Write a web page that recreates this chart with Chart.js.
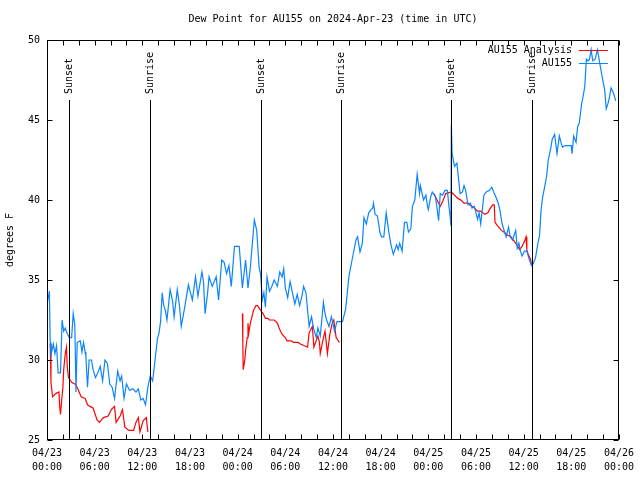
<!DOCTYPE html>
<html>
<head>
<meta charset="utf-8">
<title>Dew Point for AU155</title>
<script src="https://cdn.jsdelivr.net/npm/chart.js@4.4.1/dist/chart.umd.min.js"></script>
<style>
  html, body { margin: 0; padding: 0; background: #fff; }
  #wrap { width: 640px; height: 480px; }
</style>
</head>
<body>
<div id="wrap"><canvas id="chart" width="640" height="480"></canvas></div>
<script>
const TITLE = "Dew Point for AU155 on 2024-Apr-23 (time in UTC)";
const Y_TITLE = "degrees F";

// x values are hours since 2024-04-23 00:00 UTC
const X_TICK_DATES = ["04/23", "04/23", "04/23", "04/23", "04/24", "04/24", "04/24", "04/24", "04/25", "04/25", "04/25", "04/25", "04/26"];
const X_TICK_TIMES = ["00:00", "06:00", "12:00", "18:00", "00:00", "06:00", "12:00", "18:00", "00:00", "06:00", "12:00", "18:00", "00:00"];
const Y_TICKS = [25, 30, 35, 40, 45, 50];

const SERIES_NAMES = ["AU155 Analysis", "AU155"];

// AU155 observations
const obsHours = [
  0.0, 0.2, 0.3, 0.4, 0.5, 0.8, 1.0, 1.2, 1.4, 1.7, 1.9, 2.1, 2.3, 2.5, 2.8, 3.1, 3.3, 3.5, 3.65, 3.8,
  4.2, 4.4, 4.6, 4.8, 4.9, 5.1, 5.3, 5.6, 5.8, 6.1, 6.4, 6.7, 7.0, 7.3, 7.6, 7.9, 8.2, 8.5, 8.9, 9.2,
  9.4, 9.7, 10.0, 10.4, 10.8, 11.2, 11.5, 11.8, 12.1, 12.4, 12.7, 13.0, 13.3, 13.6, 13.9, 14.1, 14.3, 14.5, 14.7, 14.9,
  15.1, 15.5, 15.8, 16.0, 16.4, 16.7, 16.9, 17.3, 17.8, 18.0, 18.3, 18.7, 19.0, 19.5, 19.7, 19.9, 20.2, 20.4, 20.8, 21.3,
  21.6, 22.0, 22.3, 22.6, 22.9, 23.2, 23.6, 24.2, 24.6, 25.0, 25.3, 25.6, 26.1, 26.4, 26.7, 26.9, 27.1, 27.3, 27.5, 27.7,
  28.0, 28.3, 28.6, 29.0, 29.3, 29.6, 29.8, 30.0, 30.3, 30.6, 30.9, 31.2, 31.5, 31.8, 32.1, 32.3, 32.6, 33.0, 33.3, 33.6,
  33.9, 34.1, 34.4, 34.8, 35.0, 35.2, 35.5, 35.8, 36.2, 36.5, 37.2, 37.6, 37.8, 38.0, 38.4, 38.9, 39.1, 39.4, 39.7, 39.9,
  40.2, 40.5, 40.8, 41.0, 41.1, 41.3, 41.6, 41.9, 42.1, 42.4, 42.7, 43.0, 43.3, 43.6, 44.0, 44.2, 44.4, 44.7, 45.0, 45.3,
  45.5, 45.8, 46.0, 46.3, 46.6, 46.9, 47.0, 47.4, 47.7, 47.9, 48.0, 48.3, 48.5, 48.9, 49.1, 49.3, 49.5, 49.8, 50.1, 50.4,
  50.6, 50.75, 50.85, 50.9, 51.0, 51.3, 51.6, 52.0, 52.3, 52.5, 52.7, 53.0, 53.3, 53.5, 53.8, 54.2, 54.4, 54.6, 55.0, 55.3,
  55.7, 56.0, 56.3, 56.5, 56.8, 57.0, 57.3, 57.6, 57.8, 58.1, 58.3, 58.6, 58.8, 59.0, 59.2, 59.4, 59.6, 59.8, 60.1, 60.4,
  60.7, 61.0, 61.2, 61.5, 61.8, 62.0, 62.2, 62.4, 62.6, 62.9, 63.1, 63.4, 63.6, 63.9, 64.2, 64.5, 64.7, 64.9, 65.2, 65.6,
  66.0, 66.1, 66.3, 66.6, 66.8, 67.0, 67.3, 67.5, 67.7, 67.9, 68.1, 68.3, 68.5, 68.7, 69.0, 69.3, 69.6, 70.0, 70.2, 70.4,
  70.6, 70.8, 71.0, 71.3, 71.6
];
const obsDewp = [
  33.5, 34.0, 34.3, 31.1, 30.3, 31.0, 30.4, 30.9, 29.2, 29.2, 32.5, 31.8, 32.0, 31.7, 31.4, 31.4, 32.9, 32.2, 28.0, 31.1,
  31.2, 30.5, 31.1, 30.5, 30.2, 28.3, 30.0, 30.0, 29.4, 28.9, 29.2, 29.6, 28.7, 30.0, 29.8, 28.5, 28.3, 27.6, 29.3, 28.7,
  29.0, 27.6, 28.5, 28.1, 28.2, 28.0, 28.2, 27.5, 27.6, 27.2, 28.3, 29.0, 28.7, 30.0, 31.3, 31.7, 32.4, 34.2, 33.4, 33.1,
  32.5, 34.4, 33.7, 32.7, 34.4, 33.3, 32.1, 33.2, 34.7, 34.3, 33.75, 35.2, 34.0, 35.5, 34.9, 32.9, 34.1, 35.2, 34.6, 35.2,
  33.75, 36.25, 36.1, 35.4, 35.9, 34.6, 37.1, 37.1, 34.5, 36.25, 34.5, 35.8, 38.75, 38.1, 35.8, 35.3, 33.75, 34.2, 33.3, 35.2,
  34.3, 34.6, 35.0, 34.6, 35.5, 35.2, 35.7, 34.5, 33.9, 34.9, 34.2, 33.5, 34.1, 33.4, 34.0, 34.6, 34.2, 32.1, 32.7, 31.9,
  31.4, 32.0, 31.5, 33.6, 32.9, 32.5, 32.1, 32.7, 31.8, 32.4, 32.4, 33.2, 34.2, 35.2, 36.25, 37.5, 37.7, 36.75, 37.3, 38.9,
  38.5, 39.2, 39.4, 39.5, 39.8, 39.1, 39.0, 38.0, 37.7, 37.7, 39.2, 38.1, 37.2, 36.6, 37.2, 36.9, 37.3, 36.8, 38.6, 38.6,
  38.0, 38.2, 39.6, 40.0, 41.6, 40.4, 40.9, 40.0, 40.3, 39.6, 39.4, 40.2, 40.5, 40.2, 39.5, 38.7, 40.4, 40.3, 40.6, 40.6,
  39.6, 39.0, 38.4, 44.7, 42.9, 42.1, 42.3, 40.4, 40.5, 40.9, 40.6, 39.7, 39.8, 39.5, 39.6, 38.8, 39.2, 38.5, 40.3, 40.5,
  40.6, 40.8, 40.4, 40.2, 39.8, 39.4, 38.5, 38.0, 37.7, 38.3, 37.7, 37.5, 37.8, 38.1, 37.0, 37.3, 36.8, 36.5, 36.8, 36.8,
  36.3, 35.9, 36.0, 36.4, 37.3, 37.75, 39.4, 40.2, 40.7, 41.5, 42.5, 43.2, 43.8, 44.1, 42.9, 44.0, 43.6, 43.3, 43.4, 43.4,
  43.4, 42.9, 44.0, 43.6, 44.6, 44.8, 46.0, 46.5, 47.1, 48.8, 48.7, 48.8, 49.4, 48.7, 48.8, 49.4, 48.5, 47.4, 46.9, 45.7,
  46.0, 46.4, 47.0, 46.7, 46.2
];

// AU155 Analysis (null = no analysis)
const anaHours = [
  0.4, 0.5, 0.7, 1.1, 1.5, 1.6, 1.7, 1.8, 2.0, 2.1, 2.3, 2.45, 2.55, 2.7, 3.1, 3.5, 3.8, 4.3, 4.8, 5.1,
  5.4, 5.8, 6.3, 6.6, 7.1, 7.7, 8.1, 8.5, 8.7, 9.2, 9.5, 9.8, 10.3, 10.9, 11.2, 11.5, 11.7, 12.1, 12.5, 12.7,
  18.0,
  24.6, 24.65, 24.7, 24.9, 25.0, 25.2, 25.3, 25.4, 25.6, 26.0, 26.3, 26.5, 26.9, 27.2, 27.5, 27.8, 28.0, 28.6, 29.0,
  29.3, 29.6, 30.0, 30.2, 30.8, 31.0, 31.6, 31.9, 32.8, 33.0, 33.4, 33.6, 34.1, 34.3, 34.4, 34.8, 35.0, 35.3, 35.6, 35.9,
  36.1, 36.4, 36.8,
  42.0,
  48.7, 49.1, 49.5, 49.8, 50.2, 50.9, 51.3, 51.7, 52.1, 52.5, 53.0, 53.2, 53.8, 54.2, 54.6, 55.1, 55.5, 55.7, 56.1, 56.3,
  56.4, 56.7, 57.2, 57.5, 58.0, 58.4, 59.0, 59.5, 59.8, 60.1, 60.3, 60.4, 60.5, 60.9, 61.0
];
const anaDewp = [
  31.0, 28.6, 27.7, 27.9, 28.0, 27.1, 26.6, 27.2, 28.3, 29.4, 30.4, 30.8, 29.6, 28.9, 28.6, 28.5, 28.3, 27.7, 27.6, 27.2,
  27.1, 27.0, 26.25, 26.1, 26.4, 26.5, 26.9, 27.1, 26.1, 26.5, 26.9, 25.8, 25.6, 25.6, 26.1, 26.4, 25.5, 26.2, 26.4, 25.5,
  null,
  32.9, 31.1, 29.4, 30.0, 30.6, 31.4, 32.3, 31.7, 32.3, 33.1, 33.4, 33.4, 33.1, 32.9, 32.6, 32.6, 32.5, 32.5, 32.3,
  31.9, 31.6, 31.4, 31.2, 31.2, 31.1, 31.1, 31.0, 30.8, 31.7, 32.1, 30.8, 31.5, 31.1, 30.4, 31.4, 31.8, 30.4, 31.6, 32.3,
  32.5, 31.4, 31.1,
  null,
  40.4, 40.0, 39.6, 39.9, 40.4, 40.5, 40.3, 40.1, 40.0, 39.8, 39.8, 39.7, 39.5, 39.3, 39.3, 39.1, 39.2, 39.4, 39.7, 39.7,
  38.6, 38.4, 38.1, 38.0, 37.8, 37.7, 37.3, 36.9, 37.1, 37.4, 37.7, 36.9, 36.7, 36.25, 35.9
];

const sunHours = [2.75, 13.0, 26.95, 37.0, 50.9, 61.0];
const sunLabels = ["Sunset", "Sunrise", "Sunset", "Sunrise", "Sunset", "Sunrise"];

const FONT = "'DejaVu Sans Mono', 'Liberation Mono', monospace";
const OBS_COLOR = "#0a84ff";
const ANA_COLOR = "#ff0000";

const toPoints = (xs, ys) => xs.map((x, i) => ({ x, y: ys[i] }));

// gnuplot style title, frame, inward ticks, sunrise/sunset markers and key
const gnuplotDecor = {
  id: "gnuplotDecor",
  afterDatasetsDraw(chart) {
    const { ctx, chartArea: a, scales: { x, y } } = chart;
    const L = Math.round(a.left) + 0.5, R = Math.round(a.right) - 0.5;
    const T = Math.round(a.top) + 0.5, B = Math.round(a.bottom) - 0.5;
    ctx.save();
    ctx.strokeStyle = "#000";
    ctx.lineWidth = 1;
    ctx.beginPath();
    for (let h = 0; h <= 72; h += 2) {
      const px = Math.round(x.getPixelForValue(h)) + 0.5;
      ctx.moveTo(px, B); ctx.lineTo(px, B - 5);
      ctx.moveTo(px, T); ctx.lineTo(px, T + 5);
    }
    for (const v of Y_TICKS) {
      const py = Math.round(y.getPixelForValue(v)) + 0.5;
      ctx.moveTo(L, py); ctx.lineTo(L + 5, py);
      ctx.moveTo(R, py); ctx.lineTo(R - 5, py);
    }
    sunHours.forEach((h) => {
      const px = Math.round(x.getPixelForValue(h)) + 0.5;
      ctx.moveTo(px, a.top + 60); ctx.lineTo(px, B);
    });
    ctx.stroke();
    ctx.strokeRect(L, T, R - L, B - T);

    ctx.fillStyle = "#000";
    ctx.font = `10px ${FONT}`;
    ctx.textBaseline = "middle";

    ctx.textAlign = "center";
    ctx.fillText(TITLE, (a.left + a.right) / 2, 19);

    ctx.textAlign = "left";
    sunHours.forEach((h, i) => {
      const px = Math.round(x.getPixelForValue(h));
      ctx.save();
      ctx.translate(px + 0.5, a.top + 54);
      ctx.rotate(-Math.PI / 2);
      ctx.fillText(sunLabels[i], 0, 0);
      ctx.restore();
    });

    // key
    const colors = [ANA_COLOR, OBS_COLOR];
    ctx.textAlign = "right";
    SERIES_NAMES.forEach((name, i) => {
      const ky = a.top + 10 + i * 13;
      ctx.fillStyle = "#000";
      ctx.fillText(name, a.right - 47, ky);
      ctx.strokeStyle = colors[i];
      ctx.beginPath();
      ctx.moveTo(a.right - 40, Math.round(ky) + 0.5);
      ctx.lineTo(a.right - 11, Math.round(ky) + 0.5);
      ctx.stroke();
    });
    ctx.restore();
  }
};

Chart.defaults.font.family = FONT;
Chart.defaults.font.size = 10;
Chart.defaults.color = "#000";

new Chart(document.getElementById("chart"), {
  type: "line",
  data: {
    datasets: [
      {
        label: SERIES_NAMES[1],
        data: toPoints(obsHours, obsDewp),
        borderColor: OBS_COLOR,
        borderWidth: 1.2,
        pointRadius: 0,
        tension: 0
      },
      {
        label: SERIES_NAMES[0],
        data: toPoints(anaHours, anaDewp),
        borderColor: ANA_COLOR,
        borderWidth: 1.2,
        pointRadius: 0,
        tension: 0,
        spanGaps: false
      }
    ]
  },
  options: {
    responsive: false,
    animation: false,
    layout: { padding: { top: 40, right: 19, bottom: 0, left: 0 } },
    plugins: {
      legend: { display: false },
      tooltip: { enabled: false },
      title: { display: false }
    },
    scales: {
      x: {
        type: "linear",
        min: 0,
        max: 72,
        grid: { display: false, drawTicks: false },
        border: { display: false },
        ticks: {
          stepSize: 6,
          autoSkip: false,
          maxRotation: 0,
          padding: 6,
          font: { family: FONT, size: 10, lineHeight: 1.4 },
          callback: (v) => {
            const i = Math.round(v / 6);
            return [X_TICK_DATES[i], X_TICK_TIMES[i]];
          }
        },
        afterFit: (s) => { s.height = 40; }
      },
      y: {
        min: 25,
        max: 50,
        grid: { display: false, drawTicks: false },
        border: { display: false },
        ticks: { stepSize: 5, padding: 7, font: { family: FONT, size: 10 } },
        title: {
          display: true,
          text: Y_TITLE,
          font: { family: FONT, size: 10 },
          padding: { top: 4, bottom: 0 }
        },
        afterFit: (s) => { s.width = 47; }
      }
    }
  },
  plugins: [gnuplotDecor]
});
</script>
</body>
</html>
